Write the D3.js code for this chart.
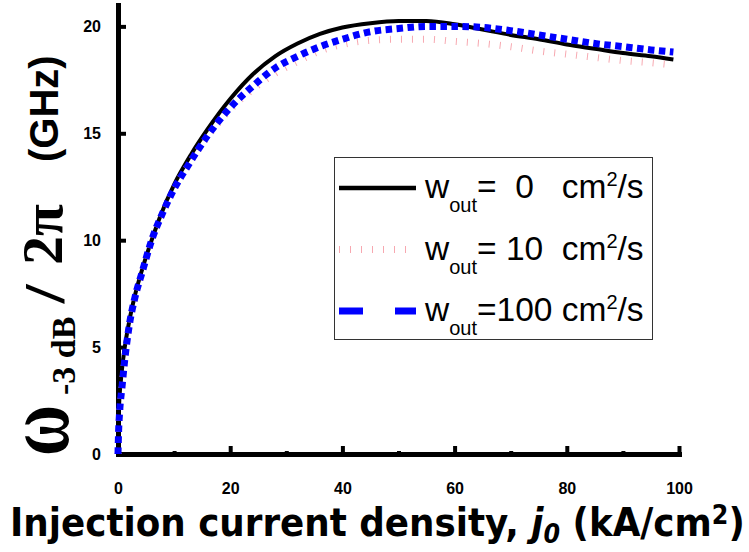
<!DOCTYPE html>
<html>
<head>
<meta charset="utf-8">
<script src="https://cdn.jsdelivr.net/npm/d3@7"></script>
<style>
  body { margin: 0; background: #fff; }
  svg { display: block; }
</style>
</head>
<body>
<svg id="chart" width="749" height="552"></svg>
<script>
// values
const jBlack = [0, 0.2, 0.5, 1, 2, 3, 4.5, 6, 7.5, 10, 13, 16, 20, 24, 28, 32, 36, 40, 45, 50, 55, 60, 65, 70, 75, 80, 85, 90, 95, 99]
const fBlack = [0, 2.3, 3.4, 4.6, 6.2, 7.4, 8.8, 10.0, 11.1, 12.6, 14.0, 15.2, 16.6, 17.75, 18.6, 19.2, 19.65, 19.95, 20.15, 20.25, 20.25, 20.1, 19.85, 19.6, 19.4, 19.15, 18.95, 18.75, 18.6, 18.45]

const jOut = [0, 0.1, 0.3, 0.7, 1.2, 2, 3, 4.3, 6, 8, 10, 12.5, 16, 20, 24, 28, 32, 36, 40, 45, 50, 55, 60, 65, 70, 75, 80, 85, 90, 95, 99]
const fPink = [0, 1.0, 2.0, 3.1, 4.4, 6.0, 7.3, 8.5, 10.0, 11.3, 12.4, 13.5, 14.85, 16.1, 17.05, 17.8, 18.35, 18.85, 19.15, 19.35, 19.4, 19.4, 19.3, 19.2, 19.05, 18.85, 18.7, 18.55, 18.4, 18.3, 18.2]
const fBlue = [0, 1.0, 2.0, 3.1, 4.4, 6.0, 7.3, 8.5, 10.0, 11.3, 12.4, 13.5, 14.9, 16.2, 17.2, 18.05, 18.6, 19.05, 19.4, 19.75, 19.9, 20.0, 20.0, 19.95, 19.8, 19.6, 19.4, 19.2, 19.05, 18.9, 18.8]

const xMajor = [0, 20, 40, 60, 80, 100]
const xMinor = [10, 30, 50, 70, 90]
const yMajor = [0, 5, 10, 15, 20]
const yMinor = [2.5, 7.5, 12.5, 17.5]

const legendValues = ['  0   ', ' 10  ', '100 ']

const svg = d3.select('#chart')

const x = d3.scaleLinear().domain([0, 100]).range([118, 679])
const y = d3.scaleLinear().domain([0, 21]).range([454, 5])

const tickFont = (sel) =>
  sel.selectAll('text')
    .attr('font-family', 'Liberation Sans, Arial, sans-serif')
    .attr('font-weight', 'bold')
    .attr('font-size', 16)
    .attr('fill', '#000')

// minor ticks first, then major axes on top
svg.append('g')
  .attr('transform', `translate(0,${y(0)})`)
  .call(d3.axisBottom(x).tickValues(xMinor).tickSize(-3).tickSizeOuter(0).tickFormat(''))
  .call((g) => g.select('.domain').remove())
  .call((g) => g.selectAll('line').attr('stroke-width', 4))

svg.append('g')
  .attr('transform', `translate(${x(0)},0)`)
  .call(d3.axisLeft(y).tickValues(yMinor).tickSize(-3).tickSizeOuter(0).tickFormat(''))
  .call((g) => g.select('.domain').remove())
  .call((g) => g.selectAll('line').attr('stroke-width', 4))

const xAxis = svg.append('g')
  .attr('transform', `translate(0,${y(0)})`)
  .call(d3.axisBottom(x).tickValues(xMajor).tickSize(-8).tickSizeOuter(0).tickPadding(29))
xAxis.select('.domain').attr('stroke-width', 5).attr('stroke-linecap', 'square')
xAxis.selectAll('line').attr('stroke-width', 4)
tickFont(xAxis)

const yAxis = svg.append('g')
  .attr('transform', `translate(${x(0)},0)`)
  .call(d3.axisLeft(y).tickValues(yMajor).tickSize(-8).tickSizeOuter(0).tickPadding(17))
yAxis.select('.domain').attr('stroke-width', 5).attr('stroke-linecap', 'square')
yAxis.selectAll('line').attr('stroke-width', 4)
tickFont(yAxis)

// curves
const line = d3.line()
  .x((d) => x(d[0]))
  .y((d) => y(d[1]))
  .curve(d3.curveMonotoneX)

const series = [
  { j: jBlack, f: fBlack, stroke: '#000', width: 4, dash: null },
  { j: jOut, f: fPink, stroke: '#f7a8b0', width: 7, dash: '1,10' },
  { j: jOut, f: fBlue, stroke: '#0000ff', width: 7, dash: '6.5,4.5' },
]

series.forEach((s) => {
  svg.append('path')
    .datum(d3.zip(s.j, s.f))
    .attr('fill', 'none')
    .attr('stroke', s.stroke)
    .attr('stroke-width', s.width)
    .attr('stroke-dasharray', s.dash)
    .attr('d', line)
})

// legend
const legend = svg.append('g')
legend.append('rect')
  .attr('x', 334.5).attr('y', 157.5)
  .attr('width', 318).attr('height', 182)
  .attr('fill', '#fff')
  .attr('stroke', '#333')
  .attr('stroke-width', 1)

const legendDash = [null, '1,10', '24,32']
series.forEach((s, i) => {
  const cy = 188 + i * 61.5
  legend.append('line')
    .attr('x1', 339).attr('x2', i === 1 ? 407 : 416)
    .attr('y1', cy).attr('y2', cy)
    .attr('stroke', s.stroke)
    .attr('stroke-width', i === 0 ? 4.5 : 7)
    .attr('stroke-dasharray', legendDash[i])

  const t = legend.append('text')
    .attr('x', 425).attr('y', cy + 10)
    .attr('font-family', 'Liberation Sans, Arial, sans-serif')
    .attr('font-size', 33.5)
    .style('white-space', 'pre')
  t.append('tspan').text('w')
  t.append('tspan').attr('font-size', 20).attr('dy', 14).text('out')
  t.append('tspan').attr('dy', -14).text(`=${legendValues[i]}cm`)
  t.append('tspan').attr('font-size', 20).attr('dy', -12).text('2')
  t.append('tspan').attr('dy', 12).text('/s')
})

// y axis title, rotated; the omega is stretched like the symbol font glyph
svg.append('text')
  .attr('transform', 'translate(68,456) rotate(-90) scale(1,1.3)')
  .attr('font-family', 'Liberation Serif, serif')
  .attr('font-weight', 'bold')
  .attr('font-size', 70)
  .text('ω')

svg.append('text')
  .attr('transform', 'translate(60,304) rotate(-90) scale(1.3,1)')
  .attr('font-family', 'DejaVu Serif, serif')
  .attr('font-size', 46)
  .text('/')

const yTitle = svg.append('text')
  .attr('transform', 'translate(0,456) rotate(-90)')
  .style('white-space', 'pre')
yTitle.append('tspan')
  .attr('x', 61).attr('y', 75)
  .attr('font-family', 'Liberation Serif, serif')
  .attr('font-weight', 'bold')
  .attr('font-size', 34)
  .text('-3 dB')
yTitle.append('tspan')
  .attr('x', 191).attr('y', 62)
  .attr('font-family', 'Liberation Serif, serif')
  .attr('font-weight', 'bold')
  .attr('font-size', 58)
  .text('2π')
yTitle.append('tspan')
  .attr('x', 294).attr('y', 58)
  .attr('font-family', 'Liberation Sans, Arial, sans-serif')
  .attr('font-weight', 'bold')
  .attr('font-size', 40)
  .text('(GHz)')

// x axis title
const xTitle = svg.append('text')
  .attr('x', 10).attr('y', 536)
  .attr('font-family', 'DejaVu Sans Condensed, DejaVu Sans, sans-serif')
  .attr('font-weight', 'bold')
  .attr('font-size', 30)
  .style('white-space', 'pre')
xTitle.append('tspan').text('Injection current density, ')
xTitle.append('tspan').attr('font-style', 'italic').text('j')
xTitle.append('tspan').attr('font-style', 'italic').attr('font-size', 20).attr('dy', 7).text('0')
xTitle.append('tspan').attr('dy', -7).text(' (kA/cm')
xTitle.append('tspan').attr('font-size', 20).attr('dy', -12).text('2')
xTitle.append('tspan').attr('dy', 12).text(')')

// stretch title to the reference width
const w = xTitle.node().getComputedTextLength()
xTitle.attr('font-size', 30 * 735 / w)
xTitle.selectAll('tspan').filter(function () { return this.getAttribute('font-size') })
  .attr('font-size', 20 * 735 / w)
</script>
</body>
</html>
